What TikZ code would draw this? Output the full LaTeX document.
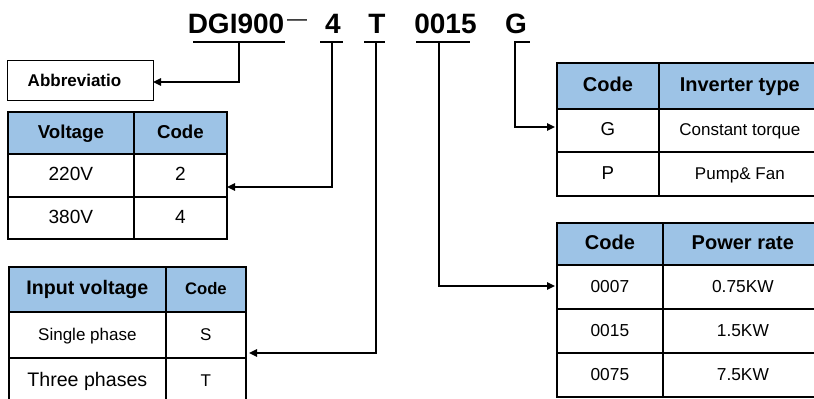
\documentclass[tikz,border=0pt]{standalone}
\usepackage{fontspec}
\setmainfont{Liberation Sans}
\usetikzlibrary{arrows.meta}
\definecolor{hdr}{HTML}{9DC3E6}
\newcommand\fs[1]{\fontsize{#1}{#1}\selectfont}
\newcommand\tcell[7]{\node[#1,minimum width={(#4-#2)*0.75pt},minimum height={(#5-#3)*0.75pt}] (#6) at (#2,#3) {#7};}
\begin{document}
\begin{tikzpicture}[x=0.75pt,y=-0.75pt,
  conn/.style={line width=1.3pt,-{Triangle[length=6pt,width=5.5pt]}},
  cellbox/.style={draw,line width=1.3pt,inner sep=0,anchor=north west,text height=0.82em,text depth=0em},
  hcell/.style={cellbox,fill=hdr,font=\bfseries},
  ulin/.style={line width=0.8pt},
  ttl/.style={font=\fs{21pt}\bfseries,anchor=base,inner sep=0}]
\useasboundingbox (0,0) rectangle (814,399);
% title
\node[ttl] (t1) at (236,34) {DGI900};
\node[font=\fs{15pt},anchor=base,inner sep=0] (dash) at (297,25.5) {—};
\node[ttl] (t2) at (333,34) {4};
\node[ttl] (t3) at (377,34) {T};
\node[ttl] (t4) at (445.5,34) {0015};
\node[ttl] (t5) at (516,34) {G};
\draw[ulin] (193,42) -- (285,42);
\draw[ulin] (320,42) -- (343,42);
\draw[ulin] (364,42) -- (385,42);
\draw[line width=1.3pt] (416,42) -- (470,42);
\draw[ulin] (514,42) -- (530,42);
\coordinate (u1) at (239,42);
\coordinate (u2) at (332,42);
\coordinate (u3) at (376,42);
\coordinate (u4) at (439,42);
\coordinate (u5) at (515,42);
% abbreviation box
\node[draw,line width=1pt,inner sep=0,anchor=north west,minimum width={146*0.75pt},minimum height={40*0.75pt}] (abbr) at (7,60) {};
\node[font=\fs{12.75pt}\bfseries] (abbrtxt) at (74.5,80) {Abbreviatio};
% voltage table
\tcell{hcell,font=\fs{14pt}\bfseries}{7}{111}{133}{153}{vh1}{Voltage}
\tcell{hcell,font=\fs{14pt}\bfseries}{133}{111}{226}{153}{vh2}{Code}
\tcell{cellbox,font=\fs{14.3pt}}{7}{153}{133}{196}{va1}{220V}
\tcell{cellbox,font=\fs{14.3pt}}{133}{153}{226}{196}{vb1}{2}
\tcell{cellbox,font=\fs{14.3pt}}{7}{196}{133}{238}{va2}{380V}
\tcell{cellbox,font=\fs{14.3pt}}{133}{196}{226}{238}{vb2}{4}
% input voltage table
\tcell{hcell,font=\fs{14.7pt}\bfseries}{8}{266}{165}{311}{ih1}{Input voltage}
\tcell{hcell,font=\fs{12.5pt}\bfseries}{165}{266}{245}{311}{ih2}{Code}
\tcell{cellbox,font=\fs{12.75pt}}{8}{311}{165}{357}{ia1}{Single phase}
\tcell{cellbox,font=\fs{12.75pt}}{165}{311}{245}{357}{ib1}{S}
\tcell{cellbox,font=\fs{14.7pt}}{8}{357}{165}{403}{ia2}{Three phases}
\tcell{cellbox,font=\fs{12.75pt}}{165}{357}{245}{403}{ib2}{T}
% inverter type table
\tcell{hcell,font=\fs{15pt}\bfseries}{556}{62}{658}{108}{gh1}{Code}
\tcell{hcell,font=\fs{15pt}\bfseries}{658}{62}{820}{108}{gh2}{Inverter type}
\tcell{cellbox,font=\fs{14pt}}{556}{108}{658}{151}{ga1}{G}
\tcell{cellbox,font=\fs{12.75pt}}{658}{108}{820}{151}{gb1}{Constant torque}
\tcell{cellbox,font=\fs{14pt}}{556}{151}{658}{195}{ga2}{P}
\tcell{cellbox,font=\fs{12.75pt}}{658}{151}{820}{195}{gb2}{Pump\& Fan}
% power rate table
\tcell{hcell,font=\fs{15pt}\bfseries}{556}{222}{662}{264}{ph1}{Code}
\tcell{hcell,font=\fs{15pt}\bfseries}{662}{222}{822}{264}{ph2}{Power rate}
\tcell{cellbox,font=\fs{13pt}}{556}{264}{662}{308}{pa1}{0007}
\tcell{cellbox,font=\fs{13pt}}{662}{264}{822}{308}{pb1}{0.75KW}
\tcell{cellbox,font=\fs{13pt}}{556}{308}{662}{352}{pa2}{0015}
\tcell{cellbox,font=\fs{13pt}}{662}{308}{822}{352}{pb2}{1.5KW}
\tcell{cellbox,font=\fs{13pt}}{556}{352}{662}{396}{pa3}{0075}
\tcell{cellbox,font=\fs{13pt}}{662}{352}{822}{396}{pb3}{7.5KW}
% connector ends
\coordinate (e1) at (153,82);
\coordinate (e2) at (227,187);
\coordinate (e3) at (249,353);
\coordinate (e4) at (555,286);
\coordinate (e5) at (555,127);
\draw[conn] (u1) |- (e1);
\draw[conn] (u2) |- (e2);
\draw[conn] (u3) |- (e3);
\draw[conn] (u4) |- (e4);
\draw[conn] (u5) |- (e5);
\end{tikzpicture}
\end{document}
